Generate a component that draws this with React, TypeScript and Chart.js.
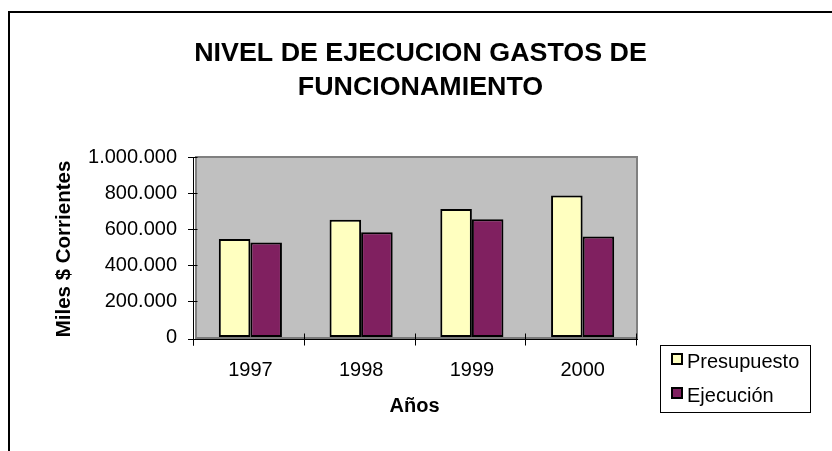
import React, { useEffect, useRef } from "react";
import { Chart, registerables } from "chart.js";

Chart.register(...registerables);

const years = ["1997", "1998", "1999", "2000"];
const presupuesto = [545000, 652000, 711000, 786000];
const ejecucion = [525000, 582000, 654000, 558000];
const yMin = 0;
const yMax = 1000000;
const yStep = 200000;
const titleLines = ["NIVEL DE EJECUCION GASTOS DE", "FUNCIONAMIENTO"];
const xTitle = "Años";
const yTitle = "Miles $ Corrientes";
const seriesLabels = ["Presupuesto", "Ejecución"];
const seriesColors = ["#FFFFC0", "#802060"];

const FONT = "Arial, 'Liberation Sans', sans-serif";

function fmt(v: number): string {
  return String(v).replace(/\B(?=(\d{3})+(?!\d))/g, ".");
}

const decor = {
  id: "decor",
  beforeDraw(chart: any) {
    const ctx = chart.ctx;
    const { left, top, right, bottom } = chart.chartArea;
    ctx.save();
    ctx.fillStyle = "#ffffff";
    ctx.fillRect(0, 0, chart.width, chart.height);
    // outer frame
    ctx.strokeStyle = "#000";
    ctx.lineWidth = 2;
    ctx.beginPath();
    ctx.moveTo(9, chart.height + 2);
    ctx.lineTo(9, 12);
    ctx.lineTo(chart.width + 2, 12);
    ctx.stroke();
    // plot area
    const pt = top - 1;
    const pb = bottom + 2;
    ctx.fillStyle = "#C0C0C0";
    ctx.fillRect(left, pt, right - left, pb - pt);
    ctx.strokeStyle = "#808080";
    ctx.lineWidth = 2;
    ctx.strokeRect(left + 1, pt + 1, right - left - 2, pb - pt - 2);
    ctx.fillStyle = "#7a7a7a";
    ctx.fillRect(left, bottom, right - left, pb - bottom);
    ctx.restore();
  },
  afterDatasetsDraw(chart: any) {
    const ctx = chart.ctx;
    const { left, top, right, bottom } = chart.chartArea;
    const xs = chart.scales.x;
    const ys = chart.scales.y;
    const ax = left - 1.5;
    const by = bottom + 2.5;
    ctx.save();
    ctx.strokeStyle = "#000";
    ctx.lineWidth = 1;
    ctx.beginPath();
    ctx.moveTo(ax, top);
    ctx.lineTo(ax, by + 6);
    ys.ticks.forEach((t: any) => {
      if (t.value === yMin) return;
      const yy = Math.round(ys.getPixelForValue(t.value)) + 0.5;
      ctx.moveTo(ax - 5.5, yy);
      ctx.lineTo(ax + 4, yy);
    });
    ctx.moveTo(ax - 5.5, by);
    ctx.lineTo(right, by);
    for (let i = 0; i <= years.length; i++) {
      const xx = Math.round(xs.getPixelForValue(i - 0.5)) - 1.5;
      ctx.moveTo(xx, by - 6);
      ctx.lineTo(xx, by + 6);
    }
    ctx.stroke();
    ctx.restore();
  },
  afterDraw(chart: any) {
    const ctx = chart.ctx;
    const { left, top, right, bottom } = chart.chartArea;
    const cx = (left + right) / 2;
    ctx.save();
    ctx.fillStyle = "#000";
    ctx.textAlign = "center";
    ctx.textBaseline = "middle";
    // main title (slightly widened like the original GDI rendering)
    ctx.font = "bold 25px " + FONT;
    ctx.save();
    ctx.translate(cx + 4, 0);
    ctx.scale(1.073, 1);
    ctx.fillText(titleLines[0], 0, top - 103);
    ctx.fillText(titleLines[1], 0, top - 69);
    ctx.restore();
    // x title
    ctx.font = "bold 20px " + FONT;
    ctx.fillText(xTitle, cx - 2, bottom + 69);
    // y title
    ctx.save();
    ctx.font = "bold 20.5px " + FONT;
    ctx.translate(64, (top + bottom) / 2 + 2);
    ctx.rotate(-Math.PI / 2);
    ctx.fillText(yTitle, 0, 0);
    ctx.restore();
    // legend
    const bx = right + 22;
    const byy = bottom + 8;
    const bw = 150;
    const bh = 67;
    ctx.strokeStyle = "#000";
    ctx.lineWidth = 1;
    ctx.strokeRect(bx + 0.5, byy + 0.5, bw, bh);
    ctx.textAlign = "left";
    ctx.font = "20px " + FONT;
    chart.data.datasets.forEach((ds: any, i: number) => {
      const sy = byy + 8 + i * 34;
      ctx.fillStyle = ds.backgroundColor;
      ctx.fillRect(bx + 11, sy, 12, 12);
      ctx.strokeStyle = "#000";
      ctx.lineWidth = 2;
      ctx.strokeRect(bx + 12, sy + 1, 10, 10);
      ctx.fillStyle = "#000";
      ctx.fillText(ds.label, bx + 27, sy + 9.5);
    });
    ctx.restore();
  },
};

export default function App() {
  const ref = useRef<HTMLCanvasElement>(null);
  useEffect(() => {
    if (!ref.current) return;
    const chart = new Chart(ref.current, {
      type: "bar",
      data: {
        labels: years,
        datasets: [
          {
            label: seriesLabels[0],
            data: presupuesto,
            backgroundColor: seriesColors[0],
            borderColor: "#000",
            borderWidth: 2,
            borderSkipped: false,
            categoryPercentage: 0.57,
            barPercentage: 1.0,
          },
          {
            label: seriesLabels[1],
            data: ejecucion,
            backgroundColor: seriesColors[1],
            borderColor: "#000",
            borderWidth: 2,
            borderSkipped: false,
            categoryPercentage: 0.57,
            barPercentage: 1.0,
          },
        ],
      },
      options: {
        responsive: false,
        animation: false,
        layout: { padding: { left: 0, top: 157, right: 194, bottom: 0 } },
        plugins: {
          legend: { display: false },
          title: { display: false },
          tooltip: { enabled: false },
        },
        scales: {
          x: {
            afterFit: (s: any) => {
              s.height = 114;
            },
            grid: { display: false, drawTicks: false, tickLength: 0 },
            border: { display: false },
            ticks: {
              color: "#000",
              padding: 21,
              font: { family: FONT, size: 20 },
              maxRotation: 0,
            },
          },
          y: {
            min: yMin,
            max: yMax,
            afterFit: (s: any) => {
              s.width = 195;
            },
            grid: { display: false, drawTicks: false, tickLength: 0 },
            border: { display: false },
            ticks: {
              stepSize: yStep,
              color: "#000",
              padding: 18,
              font: { family: FONT, size: 20 },
              callback: (v: any) => fmt(Number(v)),
            },
          },
        },
      },
      plugins: [decor],
    });
    return () => chart.destroy();
  }, []);
  return (
    <div style={{ position: "fixed", left: 0, top: 0, width: 832, height: 451 }}>
      <canvas ref={ref} width={832} height={451} style={{ display: "block" }} />
    </div>
  );
}
